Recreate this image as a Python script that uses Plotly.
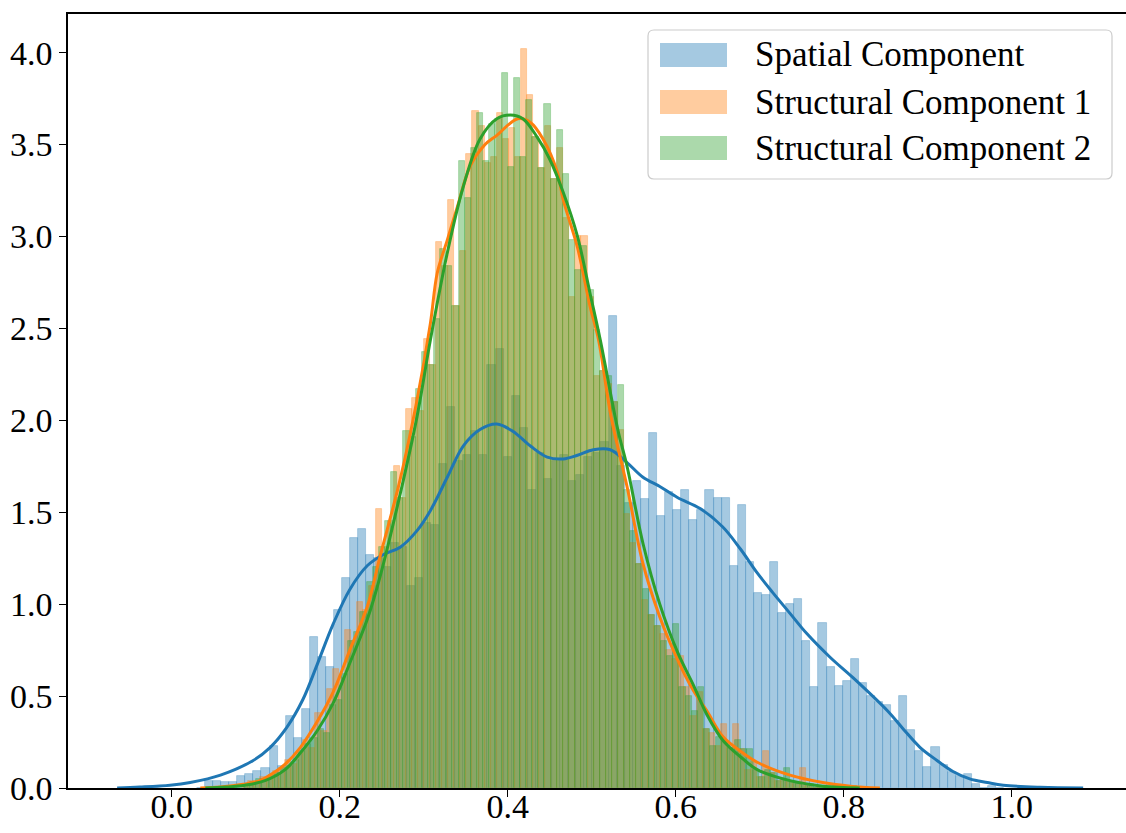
import plotly.graph_objects as go

# ---- histogram data (density per bin) ----
spatial_start, spatial_width = 0.0299, 0.00961
spatial_density = [
    0.00, 0.04, 0.04, 0.03, 0.03, 0.065, 0.076, 0.09, 0.11, 0.23,
    0.12, 0.39, 0.27, 0.43, 0.82, 0.71, 0.66, 0.97, 1.14, 1.36,
    1.41, 1.27, 1.25, 1.20, 1.33, 1.31, 1.10, 1.14, 1.44, 1.43,
    1.76, 2.07, 1.78, 1.81, 1.94, 1.81, 2.30, 2.39, 1.80, 2.13,
    1.96, 1.62, 1.82, 1.68, 1.78, 1.81, 1.67, 1.70, 1.80, 1.82,
    1.88, 2.57, 1.75, 1.55, 1.67, 1.57, 1.93, 1.48, 1.61, 1.51,
    1.62, 1.46, 1.51, 1.62, 1.58, 1.58, 1.21, 1.54, 1.23, 1.06,
    1.05, 1.23, 0.95, 1.00, 1.03, 0.80, 0.55, 0.90, 0.66, 0.555,
    0.58, 0.70, 0.57, 0.50, 0.47, 0.45, 0.365, 0.50, 0.315, 0.20,
    0.114, 0.223, 0.125, 0.087, 0.065, 0.076, 0.022, 0.00, 0.01, 0.00,
]

struct1_start, struct1_width = 0.0840, 0.00721
struct1_density = [
    0.02, 0.04, 0.04, 0.06, 0.06, 0.09, 0.11, 0.15, 0.13, 0.19,
    0.26, 0.22, 0.41, 0.31, 0.54, 0.65, 0.60, 0.86, 0.80, 1.01,
    0.97, 1.10, 1.52, 1.31, 1.45, 1.75, 1.58, 2.06, 2.12, 2.05,
    2.44, 2.30, 2.97, 2.84, 3.20, 2.62, 2.92, 3.45, 3.68, 3.60,
    3.40, 3.43, 3.67, 3.53, 3.59, 3.43, 4.02, 3.77, 3.54, 3.37,
    3.60, 3.31, 3.48, 3.10, 2.67, 3.00, 3.00, 2.67, 2.24, 2.27,
    2.20, 2.10, 1.95, 1.49, 1.33, 1.22, 1.02, 0.94, 0.88, 0.84,
    0.75, 0.70, 0.72, 0.55, 0.39, 0.52, 0.32, 0.30, 0.23, 0.35,
    0.22, 0.35, 0.21, 0.10, 0.14, 0.06, 0.20, 0.08, 0.04, 0.05,
    0.03, 0.02, 0.11, 0.02, 0.00, 0.01, 0.00, 0.01, 0.00, 0.01,
]

struct2_start, struct2_width = 0.0860, 0.00730
struct2_density = [
    0.02, 0.03, 0.05, 0.05, 0.07, 0.08, 0.11, 0.12, 0.15, 0.20,
    0.24, 0.27, 0.32, 0.30, 0.45, 0.48, 0.62, 0.80, 0.85, 0.96,
    1.12, 1.20, 1.31, 1.45, 1.72, 1.58, 1.94, 1.91, 2.17, 2.37,
    2.30, 2.55, 2.93, 2.84, 2.62, 3.41, 3.21, 3.48, 3.67, 3.41,
    3.61, 3.64, 3.89, 3.38, 3.86, 3.43, 3.74, 3.54, 3.37, 3.72,
    3.31, 3.58, 3.34, 2.98, 2.82, 2.95, 2.71, 2.49, 2.27, 2.24,
    2.10, 2.19, 1.62, 1.40, 1.22, 1.08, 0.94, 0.88, 0.80, 0.72,
    0.89, 0.55, 0.50, 0.42, 0.55, 0.32, 0.23, 0.28, 0.25, 0.22,
    0.26, 0.21, 0.21, 0.10, 0.06, 0.10, 0.08, 0.04, 0.11, 0.03,
    0.02, 0.01, 0.02, 0.00, 0.01, 0.00, 0.01, 0.00, 0.00, 0.01,
]

# ---- kernel density estimates ----
spatial_kde_x = [
    -0.065, -0.038, -0.002, 0.022, 0.058, 0.097, 0.117, 0.137, 0.156, 0.173,
    0.192, 0.212, 0.233, 0.252, 0.272, 0.292, 0.308, 0.328, 0.347, 0.367,
    0.387, 0.406, 0.427, 0.447, 0.466, 0.483, 0.502, 0.522, 0.542, 0.561,
    0.581, 0.602, 0.629, 0.656, 0.677, 0.697, 0.716, 0.736, 0.756, 0.784,
    0.811, 0.852, 0.871, 0.891, 0.911, 0.930, 0.950, 0.971, 0.990, 1.034, 1.085,
]
spatial_kde_y = [
    0.0, 0.005, 0.015, 0.03, 0.07, 0.15, 0.22, 0.33, 0.48, 0.67,
    0.89, 1.08, 1.21, 1.27, 1.31, 1.40, 1.51, 1.69, 1.86, 1.95,
    1.98, 1.94, 1.86, 1.80, 1.79, 1.81, 1.84, 1.84, 1.77, 1.69,
    1.64, 1.58, 1.52, 1.42, 1.30, 1.17, 1.06, 0.95, 0.84, 0.71,
    0.60, 0.42, 0.32, 0.22, 0.15, 0.09, 0.05, 0.03, 0.015, 0.004, 0.0,
]

struct1_kde_x = [
    0.034, 0.058, 0.085, 0.105, 0.117, 0.135, 0.153, 0.173, 0.192, 0.212,
    0.233, 0.248, 0.272, 0.292, 0.308, 0.316, 0.328, 0.340, 0.355, 0.373,
    0.387, 0.412, 0.427, 0.442, 0.459, 0.466, 0.483, 0.498, 0.508, 0.523,
    0.542, 0.561, 0.581, 0.602, 0.621, 0.637, 0.656, 0.677, 0.697, 0.736,
    0.775, 0.808, 0.843,
]
struct1_kde_y = [
    0.0, 0.005, 0.02, 0.04, 0.07, 0.13, 0.22, 0.36, 0.52, 0.75,
    0.99, 1.26, 1.68, 2.11, 2.53, 2.80, 2.98, 3.16, 3.38, 3.50,
    3.55, 3.64, 3.62, 3.53, 3.35, 3.20, 2.94, 2.62, 2.44, 2.02,
    1.64, 1.22, 0.93, 0.70, 0.53, 0.42, 0.28, 0.20, 0.14, 0.07,
    0.03, 0.01, 0.0,
]

struct2_kde_x = [
    0.040, 0.064, 0.087, 0.111, 0.135, 0.153, 0.173, 0.192, 0.212, 0.233,
    0.248, 0.272, 0.292, 0.308, 0.328, 0.347, 0.367, 0.387, 0.403, 0.418,
    0.435, 0.450, 0.466, 0.483, 0.498, 0.510, 0.531, 0.542, 0.561, 0.581,
    0.602, 0.621, 0.637, 0.656, 0.677, 0.697, 0.736, 0.775, 0.819,
]
struct2_kde_y = [
    0.0, 0.005, 0.015, 0.04, 0.10, 0.19, 0.31, 0.46, 0.68, 0.92,
    1.15, 1.60, 2.02, 2.44, 2.91, 3.27, 3.53, 3.64, 3.66, 3.64,
    3.54, 3.42, 3.24, 3.00, 2.69, 2.44, 1.95, 1.75, 1.33, 1.00,
    0.74, 0.56, 0.40, 0.26, 0.17, 0.10, 0.04, 0.01, 0.0,
]

x_ticks = [0.0, 0.2, 0.4, 0.6, 0.8, 1.0]
y_ticks = [0.0, 0.5, 1.0, 1.5, 2.0, 2.5, 3.0, 3.5, 4.0]

series = [
    ("Spatial Component", spatial_start, spatial_width, spatial_density,
     spatial_kde_x, spatial_kde_y, (31, 119, 180)),
    ("Structural Component 1", struct1_start, struct1_width, struct1_density,
     struct1_kde_x, struct1_kde_y, (255, 127, 14)),
    ("Structural Component 2", struct2_start, struct2_width, struct2_density,
     struct2_kde_x, struct2_kde_y, (44, 160, 44)),
]

FONT = "Liberation Serif"
W, H = 1126, 833
ML, MR, MT, MB = 68, 0, 14, 45

fig = go.Figure()

# translucent histograms first (underneath all curves)
for name, start, width, dens, _, _, rgb in series:
    r, g, b = rgb
    centers = [start + (i + 0.5) * width for i in range(len(dens))]
    fig.add_trace(go.Bar(
        x=centers, y=dens, width=width, name=name,
        marker=dict(color=f"rgba({r},{g},{b},0.4)",
                    line=dict(color=f"rgba({r},{g},{b},0.35)", width=0.8)),
        showlegend=False, hoverinfo="skip",
    ))

# density curves on top
for name, _, _, _, kx, ky, rgb in series:
    r, g, b = rgb
    fig.add_trace(go.Scatter(
        x=kx, y=ky, mode="lines", name=name,
        line=dict(color=f"rgb({r},{g},{b})", width=3, shape="spline", smoothing=1.0),
        showlegend=False, hoverinfo="skip",
    ))

# ---- legend drawn as a framed box with wide colour patches ----
pw = W - ML - MR
ph = H - MT - MB


def px_x(x):
    return (x - ML) / pw


def px_y(y):
    return (H - MB - y) / ph


def rounded_rect(x0, y0, x1, y1, rad):
    rx, ry = rad / pw, rad / ph
    a0, b1 = px_x(x0), px_y(y0)
    a1, b0 = px_x(x1), px_y(y1)
    return (f"M {a0 + rx},{b1} L {a1 - rx},{b1} Q {a1},{b1} {a1},{b1 - ry} "
            f"L {a1},{b0 + ry} Q {a1},{b0} {a1 - rx},{b0} "
            f"L {a0 + rx},{b0} Q {a0},{b0} {a0},{b0 + ry} "
            f"L {a0},{b1 - ry} Q {a0},{b1} {a0 + rx},{b1} Z")


shapes = [dict(type="path", xref="paper", yref="paper",
               path=rounded_rect(648, 30, 1112, 179, 6),
               line=dict(color="#cccccc", width=1.2),
               fillcolor="rgba(255,255,255,0.8)", layer="above")]
annotations = []
row_centers = [55, 102, 148]
for (name, *_, rgb), yc in zip(series, row_centers):
    r, g, b = rgb
    shapes.append(dict(type="rect", xref="paper", yref="paper",
                       x0=px_x(660), x1=px_x(727), y0=px_y(yc + 12), y1=px_y(yc - 12),
                       line=dict(width=0), fillcolor=f"rgba({r},{g},{b},0.4)",
                       layer="above"))
    annotations.append(dict(xref="paper", yref="paper", x=px_x(753), y=px_y(yc),
                            xanchor="left", yanchor="middle", showarrow=False,
                            text=name, font=dict(family=FONT, size=35, color="black")))

axis_common = dict(
    showgrid=False, zeroline=False, showline=True, linecolor="black", linewidth=1.6,
    ticks="outside", ticklen=7, tickwidth=1.4, tickcolor="black", automargin=False,
    tickfont=dict(family=FONT, size=34, color="black"),
)

fig.update_layout(
    width=W, height=H, autosize=False,
    margin=dict(l=ML, r=MR, t=MT, b=MB, pad=0, autoexpand=False),
    paper_bgcolor="white", plot_bgcolor="white",
    barmode="overlay", bargap=0,
    showlegend=False,
    shapes=shapes, annotations=annotations,
    xaxis=dict(range=[-0.1235, 1.136], tickvals=x_ticks,
               ticktext=[f"{v:.1f}" for v in x_ticks], mirror=True,
               ticklabelstandoff=-20, **axis_common),
    yaxis=dict(range=[0, 4.21], tickvals=y_ticks,
               ticktext=[f"{v:.1f}" for v in y_ticks], **axis_common),
)

fig.write_html("out.html", config={"displayModeBar": False})
